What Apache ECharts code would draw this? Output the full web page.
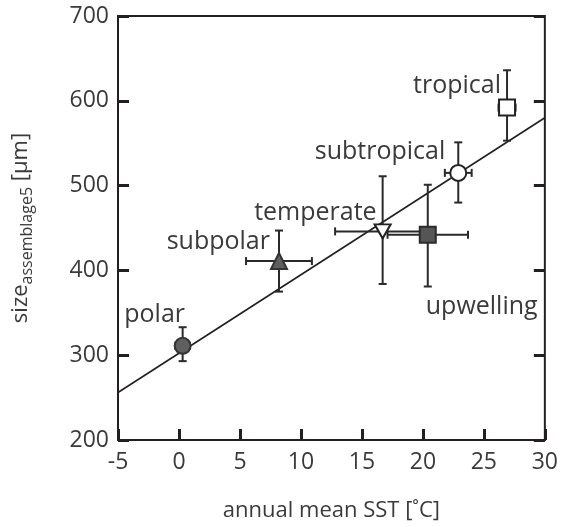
<!DOCTYPE html>
<html>
<head>
<meta charset="utf-8">
<script src="https://cdn.jsdelivr.net/npm/echarts@6/dist/echarts.min.js"></script>
<style>
html,body{margin:0;padding:0;background:#fff;}
#c{width:561px;height:527px;}
</style>
</head>
<body>
<div id="c"></div>
<script>
// ---- data ----
const regions   = ['polar', 'subpolar', 'temperate', 'upwelling', 'subtropical', 'tropical'];
const sst       = [0.3, 8.2, 16.7, 20.4, 22.9, 26.9];
const sstErr    = [0.6, 2.7, 3.9, 3.3, 1.1, 0.7];
const sizeVal   = [311, 411, 446, 442, 515, 592];
const sizeLow   = [293, 375, 384, 381, 480, 553];
const sizeHigh  = [333, 447, 511, 501, 551, 636];
const fitX      = [-5, 30];
const fitY      = [256, 580];
const xTicks    = [-5, 0, 5, 10, 15, 20, 25, 30];
const yTicks    = [200, 300, 400, 500, 600, 700];

// ---- styling (not data) ----
const markerStyle = [
  {symbol:'circle',   size:16, fill:'#5f5f5f', stroke:'#333'},
  {symbol:'triangle', size:16, fill:'#5f5f5f', stroke:'#333'},
  {symbol:'path://M0,0 L10,0 L5,9 Z', size:[16,14], fill:'#fff', stroke:'#222'},
  {symbol:'rect',     size:16, fill:'#555',    stroke:'#2a2a2a'},
  {symbol:'circle',   size:16, fill:'#fff',    stroke:'#222'},
  {symbol:'rect',     size:16, fill:'#fff',    stroke:'#222'}
];
const labelPlace = [
  {align:'center', offset:[-28,-31]},
  {align:'right',  offset:[-9,-19]},
  {align:'right',  offset:[-6,-19]},
  {align:'left',   offset:[-2,72]},
  {align:'right',  offset:[-13,-21]},
  {align:'right',  offset:[-6,-22]}
];
const TXT = '#3a3a3a';
const FONT = 'Open Sans';

const chart = echarts.init(document.getElementById('c'), null, {renderer:'canvas'});

const errData = regions.map((r,i)=>[sst[i], sizeVal[i], sst[i]-sstErr[i], sst[i]+sstErr[i], sizeLow[i], sizeHigh[i]]);

const tickStyle = {show:true, inside:true, length:11, lineStyle:{color:'#231f20', width:3}};

const option = {
  animation:false,
  backgroundColor:'#fff',
  grid:{left:118, right:13, top:16, bottom:79, show:true, borderColor:'#231f20', borderWidth:2, backgroundColor:'transparent'},
  xAxis:{
    type:'value', min:xTicks[0], max:xTicks[xTicks.length-1], interval:5,
    axisLine:{show:false, onZero:false},
    axisTick:tickStyle,
    splitLine:{show:false},
    axisLabel:{color:TXT, fontFamily:FONT, fontSize:23, margin:11},
    name:'annual mean SST [˚C]', nameLocation:'middle', nameGap:60,
    nameTextStyle:{color:TXT, fontFamily:FONT, fontSize:22}
  },
  yAxis:[{
    type:'value', min:yTicks[0], max:yTicks[yTicks.length-1], interval:100,
    axisLine:{show:false, onZero:false},
    axisTick:tickStyle,
    splitLine:{show:false},
    axisLabel:{color:TXT, fontFamily:FONT, fontSize:23, margin:9},
    name:'{n|size}{s|assemblage5}{n| [µm]}', nameLocation:'middle', nameGap:83,
    nameTextStyle:{color:TXT, fontFamily:FONT, rich:{
      n:{fontSize:22, color:TXT, fontFamily:FONT},
      s:{fontSize:16, color:TXT, fontFamily:FONT, padding:[13,0,0,0]}
    }}
  },{
    type:'value', min:yTicks[0], max:yTicks[yTicks.length-1], interval:100, position:'right',
    axisLine:{show:false, onZero:false},
    axisTick:tickStyle,
    axisLabel:{show:false}, splitLine:{show:false}
  }],
  series:[
    {
      type:'line', data:fitX.map((x,i)=>[x, fitY[i]]), symbol:'none',
      lineStyle:{color:'#231f20', width:1.6}, z:2, silent:true
    },
    {
      type:'custom', data:errData, z:3, silent:true,
      renderItem:function(params, api){
        const c  = api.coord([api.value(0), api.value(1)]);
        const xl = api.coord([api.value(2), api.value(1)]);
        const xr = api.coord([api.value(3), api.value(1)]);
        const yl = api.coord([api.value(0), api.value(4)]);
        const yh = api.coord([api.value(0), api.value(5)]);
        const cap = 4;
        const st = {stroke:'#2a2a2a', lineWidth:2, fill:null};
        const L = (x1,y1,x2,y2)=>({type:'line', shape:{x1,y1,x2,y2}, style:st});
        return {type:'group', children:[
          L(xl[0],c[1],xr[0],c[1]),
          L(xl[0],c[1]-cap,xl[0],c[1]+cap),
          L(xr[0],c[1]-cap,xr[0],c[1]+cap),
          L(c[0],yl[1],c[0],yh[1]),
          L(c[0]-cap,yl[1],c[0]+cap,yl[1]),
          L(c[0]-cap,yh[1],c[0]+cap,yh[1])
        ]};
      }
    },
    {
      type:'scatter', z:4, silent:true,
      data:regions.map((r,i)=>({
        value:[sst[i], sizeVal[i]], name:r,
        symbol:markerStyle[i].symbol, symbolSize:markerStyle[i].size,
        itemStyle:{color:markerStyle[i].fill, borderColor:markerStyle[i].stroke, borderWidth:2, opacity:1},
        label:{show:true, formatter:r, position:'inside', align:labelPlace[i].align,
               verticalAlign:'middle', offset:labelPlace[i].offset,
               color:TXT, fontFamily:FONT, fontSize:25}
      }))
    }
  ]
};
chart.setOption(option);
</script>
</body>
</html>
